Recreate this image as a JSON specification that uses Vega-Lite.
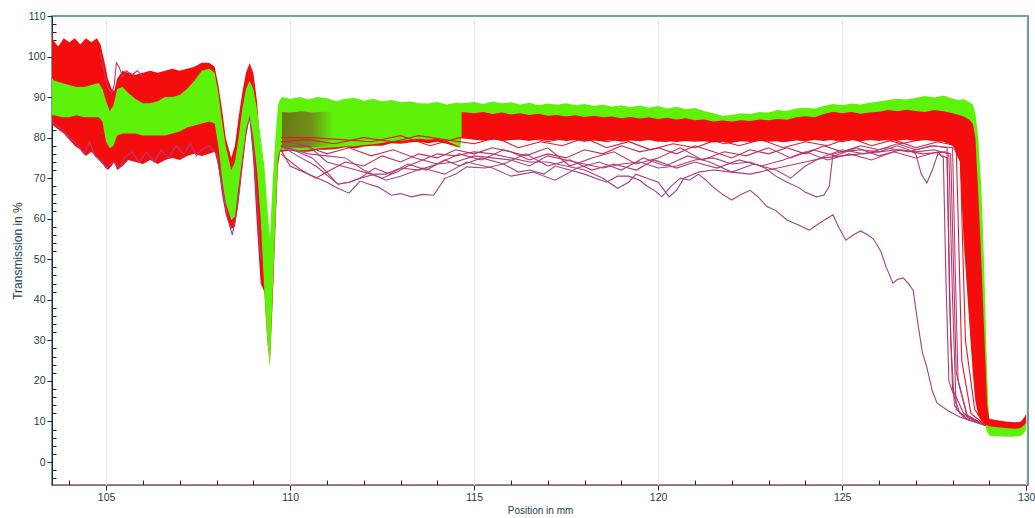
{
"$schema": "https://vega.github.io/schema/vega-lite/v6.json",
"width": 976, "height": 469,
"autosize": {"type": "none"},
"padding": {"left": 52, "top": 16, "right": 7, "bottom": 33},
"background": "#ffffff",
"config": {
  "view": {"stroke": "#3f7f8c", "strokeWidth": 1.5},
  "axis": {"labelFont": "Liberation Sans", "titleFont": "Liberation Sans", "labelColor": "#22404a", "titleColor": "#22404a", "labelFontSize": 10.5, "titleFontSize": 10, "titleFontWeight": "normal", "tickColor": "#1a2a30"}
},
"datasets": {
  "bands": [{"lo":100,"hi":110},{"lo":80,"hi":90},{"lo":60,"hi":70},{"lo":40,"hi":50},{"lo":20,"hi":30},{"lo":0,"hi":10}],
  "redUnder": [
    {"x":103.53,"lo":83,"hi":107.5},{"x":103.56,"lo":83,"hi":104},{"x":103.7,"lo":82,"hi":102.5},{"x":103.85,"lo":81,"hi":104.5},{"x":104.0,"lo":79.5,"hi":103.5},{"x":104.15,"lo":78,"hi":104.5},{"x":104.3,"lo":77,"hi":103},{"x":104.45,"lo":75.5,"hi":104.5},{"x":104.6,"lo":76.5,"hi":103.5},{"x":104.75,"lo":75,"hi":104.5},{"x":104.85,"lo":74,"hi":103},{"x":104.95,"lo":73,"hi":99},{"x":105.05,"lo":72,"hi":94.5},{"x":105.15,"lo":73,"hi":92},{"x":105.22,"lo":74,"hi":91.5},{"x":105.3,"lo":72,"hi":94.5},{"x":105.45,"lo":73,"hi":96.5},{"x":105.6,"lo":74.5,"hi":96},{"x":105.8,"lo":74,"hi":95.5},{"x":106.0,"lo":73.5,"hi":96},{"x":106.2,"lo":74.5,"hi":96.5},{"x":106.4,"lo":73.5,"hi":96},{"x":106.6,"lo":74.5,"hi":96.5},{"x":106.8,"lo":75,"hi":97},{"x":107.0,"lo":74.5,"hi":96.5},{"x":107.2,"lo":75.5,"hi":97},{"x":107.4,"lo":76,"hi":97.5},{"x":107.6,"lo":75.5,"hi":98.5},{"x":107.8,"lo":76,"hi":98.5},{"x":107.95,"lo":76.5,"hi":97.5},{"x":108.05,"lo":73,"hi":93},{"x":108.15,"lo":66,"hi":87},{"x":108.25,"lo":61,"hi":80},{"x":108.4,"lo":57.5,"hi":75},{"x":108.5,"lo":58,"hi":78},{"x":108.6,"lo":64,"hi":85},{"x":108.7,"lo":72,"hi":91},{"x":108.8,"lo":80,"hi":96},{"x":108.9,"lo":85,"hi":98.4},{"x":109.0,"lo":74,"hi":96},{"x":109.1,"lo":58,"hi":89},{"x":109.2,"lo":44,"hi":77},{"x":109.3,"lo":42,"hi":62},{"x":109.38,"lo":30,"hi":53},{"x":109.45,"lo":24,"hi":50},{"x":109.52,"lo":38,"hi":62},{"x":109.6,"lo":57,"hi":76},{"x":109.67,"lo":73,"hi":84},{"x":109.73,"lo":76.5,"hi":86},{"x":109.8,"lo":76.5,"hi":86},
    {"x":110.0,"lo":76.8,"hi":86},{"x":110.25,"lo":76.5,"hi":86},{"x":110.5,"lo":76.5,"hi":86},{"x":110.75,"lo":77,"hi":86},{"x":111.0,"lo":77,"hi":86},{"x":111.25,"lo":77.2,"hi":86},{"x":111.5,"lo":77.6,"hi":86},{"x":111.75,"lo":77.3,"hi":86},{"x":112.0,"lo":77.8,"hi":86},{"x":112.25,"lo":78,"hi":86},{"x":112.5,"lo":78,"hi":86},{"x":112.75,"lo":78.6,"hi":86},{"x":113.0,"lo":78.5,"hi":86},{"x":113.25,"lo":78.8,"hi":86},{"x":113.5,"lo":79,"hi":86},{"x":113.75,"lo":78.6,"hi":86},{"x":114.0,"lo":79,"hi":86},{"x":114.25,"lo":78.5,"hi":86},{"x":114.5,"lo":77.8,"hi":86},{"x":114.62,"lo":77.5,"hi":86}
  ],
  "green": [
    {"x":103.53,"lo":85.5,"hi":94.5},{"x":103.6,"lo":85.5,"hi":94},{"x":103.8,"lo":85,"hi":93.5},{"x":104.0,"lo":85,"hi":93},{"x":104.2,"lo":85.5,"hi":92.5},{"x":104.4,"lo":85,"hi":92.5},{"x":104.6,"lo":85,"hi":93},{"x":104.8,"lo":85,"hi":93.5},{"x":104.9,"lo":84,"hi":92},{"x":105.0,"lo":79,"hi":89},{"x":105.1,"lo":77.4,"hi":86.5},{"x":105.2,"lo":78,"hi":88},{"x":105.3,"lo":80.5,"hi":92},{"x":105.45,"lo":81,"hi":92.5},{"x":105.6,"lo":81,"hi":91},{"x":105.8,"lo":81,"hi":89.5},{"x":106.0,"lo":80.5,"hi":88.5},{"x":106.2,"lo":80.5,"hi":88.5},{"x":106.4,"lo":80.5,"hi":89},{"x":106.6,"lo":80.5,"hi":90},{"x":106.8,"lo":81,"hi":90},{"x":107.0,"lo":81.5,"hi":90.5},{"x":107.2,"lo":82.5,"hi":92},{"x":107.4,"lo":83,"hi":94},{"x":107.6,"lo":83.5,"hi":96.5},{"x":107.8,"lo":84,"hi":97},{"x":107.95,"lo":83.5,"hi":96},{"x":108.05,"lo":78,"hi":91},{"x":108.15,"lo":70,"hi":84},{"x":108.25,"lo":64,"hi":78},{"x":108.4,"lo":59.7,"hi":72},{"x":108.5,"lo":60.5,"hi":74},{"x":108.6,"lo":68,"hi":80},{"x":108.7,"lo":75,"hi":87},{"x":108.8,"lo":82,"hi":92},{"x":108.9,"lo":85.5,"hi":94},{"x":109.0,"lo":80,"hi":92},{"x":109.1,"lo":72,"hi":87},{"x":109.2,"lo":60,"hi":80},{"x":109.3,"lo":42,"hi":73},{"x":109.38,"lo":30,"hi":63},{"x":109.45,"lo":23.5,"hi":55},{"x":109.52,"lo":40,"hi":68},{"x":109.6,"lo":59,"hi":80},{"x":109.67,"lo":75,"hi":88},{"x":109.73,"lo":77,"hi":89.5},{"x":109.8,"lo":77,"hi":90},
    {"x":110.0,"lo":77,"hi":89.5},{"x":110.25,"lo":76.8,"hi":90},{"x":110.5,"lo":77,"hi":89.4},{"x":110.75,"lo":77.3,"hi":90},{"x":111.0,"lo":77.5,"hi":89.7},{"x":111.25,"lo":77.6,"hi":89},{"x":111.5,"lo":77.9,"hi":89.6},{"x":111.75,"lo":77.9,"hi":89.8},{"x":112.0,"lo":78.2,"hi":89.1},{"x":112.25,"lo":78.4,"hi":89.6},{"x":112.5,"lo":78.7,"hi":88.9},{"x":112.75,"lo":79.2,"hi":89.3},{"x":113.0,"lo":79.2,"hi":88.7},{"x":113.25,"lo":79.5,"hi":89},{"x":113.5,"lo":79.7,"hi":88.5},{"x":113.75,"lo":79.5,"hi":88.4},{"x":114.0,"lo":79.7,"hi":88.8},{"x":114.25,"lo":79.2,"hi":88.2},{"x":114.5,"lo":78.2,"hi":88.6},{"x":114.62,"lo":77.7,"hi":88.5},
    {"x":114.66,"lo":80,"hi":88.5},{"x":115.0,"lo":80,"hi":88.8},{"x":115.25,"lo":80,"hi":88.3},{"x":115.5,"lo":80,"hi":88.9},{"x":115.75,"lo":80,"hi":88.5},{"x":116.0,"lo":80,"hi":88.7},{"x":116.25,"lo":80,"hi":88.2},{"x":116.5,"lo":80,"hi":88.6},{"x":116.75,"lo":80,"hi":88.0},{"x":117.0,"lo":80,"hi":88.4},{"x":117.25,"lo":80,"hi":88.1},{"x":117.5,"lo":80,"hi":88.5},{"x":117.75,"lo":80,"hi":88.0},{"x":118.0,"lo":80,"hi":88.3},{"x":118.25,"lo":80,"hi":87.8},{"x":118.5,"lo":80,"hi":88.2},{"x":118.75,"lo":80,"hi":87.6},{"x":119.0,"lo":80,"hi":88.0},{"x":119.25,"lo":80,"hi":87.5},{"x":119.5,"lo":80,"hi":87.9},{"x":119.75,"lo":80,"hi":87.4},{"x":120.0,"lo":80,"hi":87.8},{"x":120.25,"lo":80,"hi":87.2},{"x":120.5,"lo":80,"hi":87.6},{"x":120.75,"lo":80,"hi":87.0},{"x":121.0,"lo":80,"hi":87.3},{"x":121.25,"lo":80,"hi":86.6},{"x":121.5,"lo":80,"hi":86.0},{"x":121.75,"lo":80,"hi":85.4},{"x":122.0,"lo":80,"hi":85.6},{"x":122.25,"lo":80,"hi":86.0},{"x":122.5,"lo":80,"hi":85.8},{"x":122.75,"lo":80,"hi":86.3},{"x":123.0,"lo":80,"hi":86.2},{"x":123.25,"lo":80,"hi":86.8},{"x":123.5,"lo":80,"hi":86.6},{"x":123.75,"lo":80,"hi":87.2},{"x":124.0,"lo":80,"hi":87.4},{"x":124.25,"lo":80,"hi":87.2},{"x":124.5,"lo":80,"hi":87.8},{"x":124.75,"lo":80,"hi":88.3},{"x":125.0,"lo":80,"hi":88.0},{"x":125.25,"lo":80,"hi":88.4},{"x":125.5,"lo":80,"hi":88.2},{"x":125.75,"lo":80,"hi":88.6},{"x":126.0,"lo":80,"hi":88.9},{"x":126.25,"lo":80,"hi":89.3},{"x":126.5,"lo":80,"hi":89.6},{"x":126.75,"lo":80,"hi":89.4},{"x":127.0,"lo":80,"hi":89.8},{"x":127.25,"lo":80,"hi":90.3},{"x":127.5,"lo":80,"hi":89.9},{"x":127.75,"lo":80,"hi":90.4},{"x":128.0,"lo":79,"hi":89.6},{"x":128.2,"lo":75,"hi":89.2},{"x":128.3,"lo":56,"hi":89.5},{"x":128.45,"lo":36,"hi":88.8},{"x":128.55,"lo":23,"hi":88.2},{"x":128.62,"lo":16,"hi":86},{"x":128.7,"lo":12,"hi":80},{"x":128.78,"lo":10.5,"hi":68},{"x":128.86,"lo":9.5,"hi":48},{"x":128.94,"lo":7.5,"hi":22},{"x":129.0,"lo":6.5,"hi":9.2},{"x":129.3,"lo":6.3,"hi":8.8},{"x":129.6,"lo":6.2,"hi":8.6},{"x":129.85,"lo":6.4,"hi":8.7},{"x":129.95,"lo":7.2,"hi":9.6},{"x":130.0,"lo":8,"hi":10.5}
  ],
  "olive": [
    {"x":109.78,"lo":77.8,"hi":86.3},{"x":110.0,"lo":77.6,"hi":86.2},{"x":110.3,"lo":77.4,"hi":86.5},{"x":110.6,"lo":77.6,"hi":86.2},{"x":110.9,"lo":77.8,"hi":86.4},{"x":111.2,"lo":78,"hi":86.3}
  ],
  "redOver": [
    {"x":114.66,"lo":80,"hi":86.3},{"x":115.0,"lo":79.5,"hi":86.0},{"x":115.25,"lo":79.3,"hi":86.3},{"x":115.5,"lo":79.6,"hi":85.8},{"x":115.75,"lo":79.2,"hi":86.2},{"x":116.0,"lo":79.4,"hi":85.7},{"x":116.25,"lo":79.5,"hi":86.0},{"x":116.5,"lo":79.2,"hi":85.6},{"x":116.75,"lo":79.6,"hi":85.9},{"x":117.0,"lo":79.3,"hi":85.4},{"x":117.25,"lo":79.5,"hi":85.6},{"x":117.5,"lo":79.2,"hi":85.2},{"x":117.75,"lo":79.4,"hi":85.5},{"x":118.0,"lo":79.0,"hi":85.1},{"x":118.25,"lo":79.3,"hi":85.4},{"x":118.5,"lo":79.1,"hi":85.0},{"x":118.75,"lo":79.4,"hi":85.2},{"x":119.0,"lo":79.0,"hi":84.8},{"x":119.25,"lo":79.3,"hi":85.1},{"x":119.5,"lo":79.1,"hi":84.7},{"x":119.75,"lo":79.4,"hi":85.0},{"x":120.0,"lo":79.0,"hi":84.6},{"x":120.25,"lo":79.2,"hi":84.9},{"x":120.5,"lo":78.9,"hi":84.5},{"x":120.75,"lo":79.2,"hi":84.8},{"x":121.0,"lo":79.0,"hi":84.3},{"x":121.25,"lo":79.1,"hi":84.5},{"x":121.5,"lo":78.8,"hi":84.0},{"x":121.75,"lo":79.0,"hi":84.2},{"x":122.0,"lo":78.8,"hi":84.0},{"x":122.25,"lo":79.1,"hi":84.3},{"x":122.5,"lo":78.9,"hi":84.1},{"x":122.75,"lo":79.2,"hi":84.5},{"x":123.0,"lo":79.0,"hi":84.3},{"x":123.25,"lo":79.2,"hi":84.6},{"x":123.5,"lo":79.0,"hi":84.4},{"x":123.75,"lo":79.3,"hi":85.0},{"x":124.0,"lo":79.1,"hi":85.3},{"x":124.25,"lo":79.4,"hi":85.0},{"x":124.5,"lo":79.2,"hi":85.8},{"x":124.75,"lo":79.5,"hi":86.4},{"x":125.0,"lo":79.2,"hi":86.0},{"x":125.25,"lo":79.4,"hi":86.3},{"x":125.5,"lo":79.1,"hi":85.9},{"x":125.75,"lo":79.4,"hi":86.2},{"x":126.0,"lo":79.2,"hi":86.4},{"x":126.25,"lo":79.5,"hi":86.8},{"x":126.5,"lo":79.3,"hi":86.5},{"x":126.75,"lo":79.5,"hi":86.9},{"x":127.0,"lo":79.2,"hi":86.6},{"x":127.25,"lo":79.4,"hi":86.3},{"x":127.5,"lo":79.1,"hi":86.8},{"x":127.75,"lo":79.0,"hi":86.5},{"x":128.0,"lo":78.0,"hi":86.0},{"x":128.2,"lo":74,"hi":85.5},{"x":128.3,"lo":55,"hi":85.2},{"x":128.45,"lo":35,"hi":84.5},{"x":128.55,"lo":22,"hi":83.5},{"x":128.62,"lo":15,"hi":80},{"x":128.7,"lo":11.5,"hi":66},{"x":128.78,"lo":10.2,"hi":50},{"x":128.86,"lo":9.5,"hi":32},{"x":128.94,"lo":9.0,"hi":14},{"x":129.0,"lo":8.8,"hi":10.6},{"x":129.1,"lo":8.7,"hi":10.5},{"x":129.3,"lo":8.5,"hi":10.2},{"x":129.5,"lo":8.3,"hi":9.9},{"x":129.7,"lo":8.2,"hi":9.8},{"x":129.85,"lo":8.4,"hi":9.9},{"x":129.93,"lo":9.0,"hi":10.8},{"x":130.0,"lo":9.6,"hi":11.8}
  ],
  "tracesLeft": [
    {"t":"L1","x":103.53,"hi":84},{"t":"L1","x":103.8,"hi":82},{"t":"L1","x":104.0,"hi":80},{"t":"L1","x":104.2,"hi":78.5},{"t":"L1","x":104.4,"hi":76},{"t":"L1","x":104.55,"hi":79},{"t":"L1","x":104.7,"hi":75.5},{"t":"L1","x":104.9,"hi":74},{"t":"L1","x":105.0,"hi":72.5},{"t":"L1","x":105.2,"hi":74},{"t":"L1","x":105.35,"hi":72.5},{"t":"L1","x":105.5,"hi":75},{"t":"L1","x":105.7,"hi":76.5},{"t":"L1","x":105.9,"hi":74},{"t":"L1","x":106.1,"hi":76.5},{"t":"L1","x":106.3,"hi":74},{"t":"L1","x":106.5,"hi":77},{"t":"L1","x":106.7,"hi":75},{"t":"L1","x":106.9,"hi":78},{"t":"L1","x":107.1,"hi":76},{"t":"L1","x":107.3,"hi":78.5},{"t":"L1","x":107.45,"hi":75.5},{"t":"L1","x":107.6,"hi":77},{"t":"L1","x":107.8,"hi":78},{"t":"L1","x":108.0,"hi":76},{"t":"L1","x":108.15,"hi":68},{"t":"L1","x":108.3,"hi":60},{"t":"L1","x":108.43,"hi":56},{"t":"L1","x":108.55,"hi":62},{"t":"L1","x":108.7,"hi":74},{"t":"L1","x":108.8,"hi":82},{"t":"L1","x":108.9,"hi":85},{"t":"L1","x":109.0,"hi":77},{"t":"L1","x":109.1,"hi":64},{"t":"L1","x":109.2,"hi":50},
    {"t":"L2","x":104.85,"hi":101},{"t":"L2","x":104.95,"hi":96},{"t":"L2","x":105.05,"hi":92.5},{"t":"L2","x":105.15,"hi":91},{"t":"L2","x":105.22,"hi":93},{"t":"L2","x":105.28,"hi":98.5},{"t":"L2","x":105.35,"hi":97.5},{"t":"L2","x":105.45,"hi":95},{"t":"L2","x":105.55,"hi":96.5},{"t":"L2","x":105.7,"hi":95.5},{"t":"L2","x":105.85,"hi":96.5},{"t":"L2","x":106.0,"hi":95}
  ],
  "tracesRight": [
    {"t":"T1","x":109.75,"hi":77},{"t":"T1","x":110.0,"hi":73},{"t":"T1","x":110.5,"hi":71},{"t":"T1","x":111.0,"hi":69},{"t":"T1","x":111.3,"hi":67.5},{"t":"T1","x":111.6,"hi":66.3},{"t":"T1","x":111.9,"hi":69.3},{"t":"T1","x":112.15,"hi":68.5},{"t":"T1","x":112.4,"hi":67.8},{"t":"T1","x":112.75,"hi":65.8},{"t":"T1","x":113.0,"hi":66.2},{"t":"T1","x":113.3,"hi":65.4},{"t":"T1","x":113.6,"hi":66},{"t":"T1","x":113.9,"hi":65.8},{"t":"T1","x":114.2,"hi":69.9},{"t":"T1","x":114.5,"hi":71},{"t":"T1","x":114.8,"hi":72.8},{"t":"T1","x":115.3,"hi":72.5},{"t":"T1","x":115.8,"hi":73.5},{"t":"T1","x":116.2,"hi":71.5},{"t":"T1","x":116.5,"hi":72},{"t":"T1","x":116.9,"hi":71},{"t":"T1","x":117.2,"hi":73},{"t":"T1","x":117.6,"hi":72},{"t":"T1","x":118.0,"hi":71},{"t":"T1","x":118.3,"hi":70},{"t":"T1","x":118.6,"hi":69},{"t":"T1","x":118.9,"hi":70.5},{"t":"T1","x":119.2,"hi":70.5},{"t":"T1","x":119.5,"hi":69.5},{"t":"T1","x":119.7,"hi":68},{"t":"T1","x":119.9,"hi":67},{"t":"T1","x":120.1,"hi":65.4},{"t":"T1","x":120.35,"hi":68},{"t":"T1","x":120.6,"hi":70},{"t":"T1","x":120.85,"hi":69.5},{"t":"T1","x":121.1,"hi":71},{"t":"T1","x":121.3,"hi":69.5},{"t":"T1","x":121.5,"hi":67.8},{"t":"T1","x":121.75,"hi":66},{"t":"T1","x":122.0,"hi":64.6},{"t":"T1","x":122.25,"hi":66},{"t":"T1","x":122.5,"hi":67},{"t":"T1","x":122.7,"hi":65.5},{"t":"T1","x":122.96,"hi":63},{"t":"T1","x":123.2,"hi":62},{"t":"T1","x":123.5,"hi":59.7},{"t":"T1","x":123.8,"hi":58.5},{"t":"T1","x":124.1,"hi":57.2},{"t":"T1","x":124.4,"hi":59},{"t":"T1","x":124.75,"hi":61},{"t":"T1","x":124.9,"hi":58},{"t":"T1","x":125.1,"hi":54.7},{"t":"T1","x":125.3,"hi":56},{"t":"T1","x":125.5,"hi":57},{"t":"T1","x":125.7,"hi":56},{"t":"T1","x":125.85,"hi":55},{"t":"T1","x":126.05,"hi":52},{"t":"T1","x":126.2,"hi":48},{"t":"T1","x":126.38,"hi":44.1},{"t":"T1","x":126.5,"hi":45},{"t":"T1","x":126.66,"hi":45.4},{"t":"T1","x":126.8,"hi":44},{"t":"T1","x":126.93,"hi":42.4},{"t":"T1","x":127.06,"hi":34},{"t":"T1","x":127.18,"hi":27},{"t":"T1","x":127.3,"hi":23.4},{"t":"T1","x":127.45,"hi":17.5},{"t":"T1","x":127.58,"hi":14.5},{"t":"T1","x":127.9,"hi":12.5},{"t":"T1","x":128.2,"hi":11.1},{"t":"T1","x":128.5,"hi":10.2},{"t":"T1","x":128.9,"hi":9},
    {"t":"T2","x":109.75,"hi":78},{"t":"T2","x":110.2,"hi":76.5},{"t":"T2","x":110.6,"hi":75},{"t":"T2","x":111.0,"hi":71.5},{"t":"T2","x":111.3,"hi":68.5},{"t":"T2","x":111.6,"hi":69},{"t":"T2","x":111.9,"hi":70},{"t":"T2","x":112.3,"hi":71},{"t":"T2","x":112.6,"hi":71},{"t":"T2","x":113.0,"hi":72.5},{"t":"T2","x":113.5,"hi":72},{"t":"T2","x":114.0,"hi":73.5},{"t":"T2","x":114.5,"hi":74},{"t":"T2","x":115.0,"hi":75.5},{"t":"T2","x":115.5,"hi":75},{"t":"T2","x":116.0,"hi":74.5},{"t":"T2","x":116.5,"hi":73},{"t":"T2","x":117.0,"hi":75.5},{"t":"T2","x":117.5,"hi":74.5},{"t":"T2","x":118.0,"hi":73.5},{"t":"T2","x":118.5,"hi":72.5},{"t":"T2","x":119.0,"hi":73.5},{"t":"T2","x":119.5,"hi":74},{"t":"T2","x":120.0,"hi":72.5},{"t":"T2","x":120.5,"hi":73},{"t":"T2","x":121.0,"hi":74.5},{"t":"T2","x":121.5,"hi":75},{"t":"T2","x":122.0,"hi":73.5},{"t":"T2","x":122.5,"hi":74},{"t":"T2","x":122.9,"hi":72.5},{"t":"T2","x":123.2,"hi":70.5},{"t":"T2","x":123.5,"hi":69},{"t":"T2","x":123.8,"hi":67.8},{"t":"T2","x":124.0,"hi":66.5},{"t":"T2","x":124.3,"hi":65.4},{"t":"T2","x":124.5,"hi":65.8},{"t":"T2","x":124.65,"hi":68},{"t":"T2","x":124.75,"hi":76},{"t":"T2","x":125.0,"hi":76.5},{"t":"T2","x":125.5,"hi":77},{"t":"T2","x":126.0,"hi":76.5},{"t":"T2","x":126.5,"hi":78},{"t":"T2","x":126.8,"hi":77},{"t":"T2","x":127.0,"hi":76},{"t":"T2","x":127.15,"hi":71},{"t":"T2","x":127.3,"hi":68.8},{"t":"T2","x":127.45,"hi":72},{"t":"T2","x":127.6,"hi":76},{"t":"T2","x":127.85,"hi":75},{"t":"T2","x":127.95,"hi":30},{"t":"T2","x":128.05,"hi":14},{"t":"T2","x":128.3,"hi":11},{"t":"T2","x":128.9,"hi":9},
    {"t":"T3","x":109.75,"hi":79},{"t":"T3","x":110.5,"hi":78},{"t":"T3","x":111.0,"hi":74},{"t":"T3","x":111.4,"hi":73},{"t":"T3","x":111.8,"hi":72},{"t":"T3","x":112.2,"hi":71},{"t":"T3","x":112.5,"hi":70},{"t":"T3","x":112.9,"hi":71.5},{"t":"T3","x":113.2,"hi":73},{"t":"T3","x":113.6,"hi":74.5},{"t":"T3","x":114.0,"hi":76},{"t":"T3","x":114.5,"hi":75.5},{"t":"T3","x":115.0,"hi":76.5},{"t":"T3","x":115.5,"hi":76},{"t":"T3","x":116.0,"hi":75},{"t":"T3","x":116.5,"hi":74},{"t":"T3","x":117.0,"hi":74},{"t":"T3","x":117.5,"hi":73},{"t":"T3","x":118.0,"hi":72},{"t":"T3","x":118.5,"hi":70},{"t":"T3","x":118.9,"hi":67.5},{"t":"T3","x":119.2,"hi":69},{"t":"T3","x":119.4,"hi":71},{"t":"T3","x":119.7,"hi":70},{"t":"T3","x":120.0,"hi":69},{"t":"T3","x":120.3,"hi":65.4},{"t":"T3","x":120.5,"hi":67},{"t":"T3","x":120.7,"hi":70},{"t":"T3","x":121.1,"hi":71.5},{"t":"T3","x":121.5,"hi":72},{"t":"T3","x":122.0,"hi":71.5},{"t":"T3","x":122.5,"hi":71},{"t":"T3","x":123.0,"hi":72},{"t":"T3","x":123.5,"hi":73},{"t":"T3","x":124.0,"hi":74},{"t":"T3","x":124.5,"hi":75},{"t":"T3","x":125.0,"hi":75.5},{"t":"T3","x":125.5,"hi":76},{"t":"T3","x":126.0,"hi":76.5},{"t":"T3","x":126.5,"hi":77},{"t":"T3","x":127.0,"hi":76.5},{"t":"T3","x":127.5,"hi":77},{"t":"T3","x":127.9,"hi":76},{"t":"T3","x":128.0,"hi":40},{"t":"T3","x":128.1,"hi":13},{"t":"T3","x":128.4,"hi":10.5},{"t":"T3","x":128.9,"hi":9},
    {"t":"T4","x":109.75,"hi":76},{"t":"T4","x":110.3,"hi":72},{"t":"T4","x":110.7,"hi":70},{"t":"T4","x":111.0,"hi":71.5},{"t":"T4","x":111.5,"hi":74},{"t":"T4","x":112.0,"hi":73},{"t":"T4","x":112.5,"hi":75.5},{"t":"T4","x":113.0,"hi":74},{"t":"T4","x":113.5,"hi":76},{"t":"T4","x":114.0,"hi":75},{"t":"T4","x":114.5,"hi":77},{"t":"T4","x":115.0,"hi":76},{"t":"T4","x":115.5,"hi":77.5},{"t":"T4","x":116.0,"hi":76.5},{"t":"T4","x":116.5,"hi":74.5},{"t":"T4","x":117.0,"hi":76},{"t":"T4","x":117.5,"hi":75},{"t":"T4","x":118.0,"hi":77},{"t":"T4","x":118.5,"hi":76},{"t":"T4","x":119.0,"hi":78},{"t":"T4","x":119.5,"hi":76.5},{"t":"T4","x":120.0,"hi":77.5},{"t":"T4","x":120.5,"hi":76},{"t":"T4","x":121.0,"hi":78},{"t":"T4","x":121.5,"hi":76.5},{"t":"T4","x":122.0,"hi":75},{"t":"T4","x":122.5,"hi":77},{"t":"T4","x":123.0,"hi":76},{"t":"T4","x":123.5,"hi":77.5},{"t":"T4","x":124.0,"hi":76},{"t":"T4","x":124.5,"hi":78},{"t":"T4","x":125.0,"hi":76.5},{"t":"T4","x":125.5,"hi":78},{"t":"T4","x":126.0,"hi":77},{"t":"T4","x":126.5,"hi":78.5},{"t":"T4","x":127.0,"hi":77},{"t":"T4","x":127.5,"hi":78},{"t":"T4","x":127.85,"hi":77.5},{"t":"T4","x":127.92,"hi":40},{"t":"T4","x":128.0,"hi":18},{"t":"T4","x":128.3,"hi":12},{"t":"T4","x":128.9,"hi":9},
    {"t":"T5","x":109.75,"hi":78},{"t":"T5","x":110.5,"hi":76},{"t":"T5","x":111.0,"hi":75.5},{"t":"T5","x":111.5,"hi":75},{"t":"T5","x":112.0,"hi":72},{"t":"T5","x":112.6,"hi":69.5},{"t":"T5","x":113.0,"hi":70.5},{"t":"T5","x":113.6,"hi":72.5},{"t":"T5","x":114.2,"hi":71},{"t":"T5","x":114.8,"hi":74},{"t":"T5","x":115.5,"hi":72.5},{"t":"T5","x":116.0,"hi":70.5},{"t":"T5","x":116.6,"hi":71.5},{"t":"T5","x":117.2,"hi":69.5},{"t":"T5","x":117.8,"hi":72.5},{"t":"T5","x":118.4,"hi":74},{"t":"T5","x":119.0,"hi":72},{"t":"T5","x":119.6,"hi":75},{"t":"T5","x":120.2,"hi":73},{"t":"T5","x":120.8,"hi":75.5},{"t":"T5","x":121.4,"hi":74},{"t":"T5","x":122.0,"hi":71.5},{"t":"T5","x":122.6,"hi":73.5},{"t":"T5","x":123.2,"hi":72},{"t":"T5","x":123.6,"hi":70},{"t":"T5","x":124.0,"hi":73},{"t":"T5","x":124.4,"hi":75},{"t":"T5","x":125.0,"hi":77},{"t":"T5","x":125.6,"hi":76},{"t":"T5","x":126.2,"hi":77.5},{"t":"T5","x":126.8,"hi":76.5},{"t":"T5","x":127.4,"hi":78},{"t":"T5","x":128.0,"hi":77.5},{"t":"T5","x":128.08,"hi":45},{"t":"T5","x":128.15,"hi":20},{"t":"T5","x":128.4,"hi":11},{"t":"T5","x":128.9,"hi":9},
    {"t":"T6","x":109.75,"hi":79},{"t":"T6","x":110.5,"hi":79.5},{"t":"T6","x":111.2,"hi":78.5},{"t":"T6","x":112.0,"hi":80},{"t":"T6","x":112.8,"hi":79},{"t":"T6","x":113.5,"hi":80.5},{"t":"T6","x":114.2,"hi":79.5},{"t":"T6","x":115.0,"hi":78.5},{"t":"T6","x":115.6,"hi":80},{"t":"T6","x":116.2,"hi":77.5},{"t":"T6","x":116.8,"hi":79},{"t":"T6","x":117.4,"hi":78},{"t":"T6","x":118.0,"hi":80},{"t":"T6","x":118.6,"hi":77.5},{"t":"T6","x":119.2,"hi":79},{"t":"T6","x":119.8,"hi":77},{"t":"T6","x":120.4,"hi":78.5},{"t":"T6","x":121.0,"hi":77.5},{"t":"T6","x":121.6,"hi":79.5},{"t":"T6","x":122.2,"hi":78},{"t":"T6","x":122.8,"hi":79.5},{"t":"T6","x":123.4,"hi":77.5},{"t":"T6","x":124.0,"hi":79},{"t":"T6","x":124.6,"hi":78},{"t":"T6","x":125.2,"hi":80},{"t":"T6","x":125.8,"hi":78},{"t":"T6","x":126.4,"hi":79.5},{"t":"T6","x":127.0,"hi":77.5},{"t":"T6","x":127.6,"hi":79},{"t":"T6","x":128.1,"hi":78},{"t":"T6","x":128.18,"hi":50},{"t":"T6","x":128.25,"hi":25},{"t":"T6","x":128.5,"hi":12},{"t":"T6","x":128.9,"hi":9},
    {"t":"T7","x":109.75,"hi":77.5},{"t":"T7","x":110.4,"hi":78},{"t":"T7","x":111.0,"hi":76},{"t":"T7","x":111.6,"hi":77.5},{"t":"T7","x":112.2,"hi":75.5},{"t":"T7","x":112.8,"hi":77},{"t":"T7","x":113.4,"hi":75},{"t":"T7","x":114.0,"hi":73.5},{"t":"T7","x":114.6,"hi":76},{"t":"T7","x":115.2,"hi":74.5},{"t":"T7","x":115.8,"hi":77},{"t":"T7","x":116.4,"hi":75.5},{"t":"T7","x":117.0,"hi":77.5},{"t":"T7","x":117.6,"hi":73},{"t":"T7","x":118.2,"hi":75},{"t":"T7","x":118.8,"hi":76.5},{"t":"T7","x":119.4,"hi":73.5},{"t":"T7","x":120.0,"hi":75},{"t":"T7","x":120.6,"hi":77.5},{"t":"T7","x":121.2,"hi":74.5},{"t":"T7","x":121.8,"hi":76.5},{"t":"T7","x":122.4,"hi":75.5},{"t":"T7","x":123.0,"hi":77.5},{"t":"T7","x":123.6,"hi":75},{"t":"T7","x":124.2,"hi":77},{"t":"T7","x":124.8,"hi":75.5},{"t":"T7","x":125.4,"hi":77.5},{"t":"T7","x":126.0,"hi":75.5},{"t":"T7","x":126.6,"hi":77},{"t":"T7","x":127.2,"hi":76},{"t":"T7","x":127.8,"hi":76.5},{"t":"T7","x":127.95,"hi":76},{"t":"T7","x":128.02,"hi":50},{"t":"T7","x":128.1,"hi":22},{"t":"T7","x":128.4,"hi":11.5},{"t":"T7","x":128.9,"hi":9},
    {"t":"T8","x":109.75,"hi":80},{"t":"T8","x":110.6,"hi":80},{"t":"T8","x":111.4,"hi":79.5},{"t":"T8","x":112.2,"hi":79},{"t":"T8","x":113.0,"hi":80.5},{"t":"T8","x":113.8,"hi":78},{"t":"T8","x":114.6,"hi":80},{"t":"T8","x":115.4,"hi":79.5},{"t":"T8","x":116.2,"hi":80.5},{"t":"T8","x":117.0,"hi":79},{"t":"T8","x":117.8,"hi":80.5},{"t":"T8","x":118.6,"hi":79},{"t":"T8","x":119.4,"hi":80.5},{"t":"T8","x":120.2,"hi":79},{"t":"T8","x":121.0,"hi":80.5},{"t":"T8","x":121.8,"hi":78.5},{"t":"T8","x":122.6,"hi":80},{"t":"T8","x":123.4,"hi":79},{"t":"T8","x":124.2,"hi":80.5},{"t":"T8","x":125.0,"hi":79},{"t":"T8","x":125.8,"hi":80.5},{"t":"T8","x":126.6,"hi":78.5},{"t":"T8","x":127.4,"hi":80},{"t":"T8","x":128.2,"hi":79},{"t":"T8","x":128.27,"hi":55},{"t":"T8","x":128.35,"hi":30},{"t":"T8","x":128.6,"hi":13},{"t":"T8","x":128.9,"hi":9},
    {"t":"T9","x":109.75,"hi":78},{"t":"T9","x":110.2,"hi":75.5},{"t":"T9","x":110.7,"hi":73},{"t":"T9","x":111.3,"hi":68.5},{"t":"T9","x":111.6,"hi":69},{"t":"T9","x":111.9,"hi":70},{"t":"T9","x":112.3,"hi":72.5},{"t":"T9","x":112.7,"hi":71},{"t":"T9","x":113.2,"hi":73.5},{"t":"T9","x":113.7,"hi":72},{"t":"T9","x":114.2,"hi":74.5},{"t":"T9","x":114.6,"hi":73},{"t":"T9","x":115.2,"hi":75},{"t":"T9","x":115.8,"hi":73.5},{"t":"T9","x":116.4,"hi":76},{"t":"T9","x":117.0,"hi":73},{"t":"T9","x":117.6,"hi":74.5},{"t":"T9","x":118.2,"hi":72},{"t":"T9","x":118.8,"hi":73.5},{"t":"T9","x":119.4,"hi":72},{"t":"T9","x":119.9,"hi":74.5},{"t":"T9","x":120.5,"hi":72.5},{"t":"T9","x":121.0,"hi":74},{"t":"T9","x":121.6,"hi":72.5},{"t":"T9","x":122.2,"hi":74.5},{"t":"T9","x":122.8,"hi":73},{"t":"T9","x":123.4,"hi":74.5},{"t":"T9","x":124.0,"hi":76.5},{"t":"T9","x":124.6,"hi":74.5},{"t":"T9","x":125.2,"hi":76},{"t":"T9","x":125.8,"hi":74.5},{"t":"T9","x":126.4,"hi":76.5},{"t":"T9","x":127.0,"hi":75},{"t":"T9","x":127.6,"hi":76.5},{"t":"T9","x":127.75,"hi":75},{"t":"T9","x":127.82,"hi":45},{"t":"T9","x":127.9,"hi":20},{"t":"T9","x":128.2,"hi":12},{"t":"T9","x":128.9,"hi":9}
  ]
},
"encoding": {
  "x": {"field": "x", "type": "quantitative", "scale": {"domain": [103.53, 130.05], "nice": false, "zero": false}, "title": "Position in mm",
    "axis": {"values": [104,105,106,107,108,109,110,111,112,113,114,115,116,117,118,119,120,121,122,123,124,125,126,127,128,129,130],
      "labelExpr": "datum.value % 5 === 0 ? datum.label : ''", "labelOverlap": false, "labelFlush": false, "tickCount": 27,
      "tickSize": {"condition": {"test": "datum.value % 5 === 0", "value": 5}, "value": -5},
      "grid": true, "gridColor": "#eaeded",
      "gridOpacity": {"condition": {"test": "datum.value % 5 === 0", "value": 1}, "value": 0},
      "domainColor": "#c85050", "labelPadding": 2, "titlePadding": 3}},
  "y": {"field": "hi", "type": "quantitative", "scale": {"domain": [-5.67, 110], "nice": false, "zero": false}, "title": "Transmission in %",
    "axis": {"values": [-4,-2,0,2,4,6,8,10,12,14,16,18,20,22,24,26,28,30,32,34,36,38,40,42,44,46,48,50,52,54,56,58,60,62,64,66,68,70,72,74,76,78,80,82,84,86,88,90,92,94,96,98,100,102,104,106,108,110],
      "labelExpr": "datum.value % 10 === 0 ? datum.label : ''", "labelOverlap": false, "labelFlush": false, "tickCount": 58,
      "tickSize": {"condition": {"test": "datum.value % 10 === 0", "value": 5}, "value": -4},
      "grid": false, "domainColor": "#1e2e34", "labelPadding": 2, "titlePadding": 3, "titleFontSize": 12}}
},
"layer": [
  {
    "data": {"name": "bands"},
    "mark": {"type": "rect", "fill": "#000000", "opacity": 0.035},
    "encoding": {"x": {"datum": 103.53, "type": "quantitative"}, "x2": {"datum": 130.05}, "y2": {"field": "lo"}}
  },
  {
    "data": {"name": "redUnder"},
    "mark": {"type": "area", "color": "#f50c0c", "clip": true},
    "encoding": {"y2": {"field": "lo"}}
  },
  {
    "data": {"name": "tracesLeft"},
    "mark": {"type": "line", "strokeWidth": 1.1, "clip": true},
    "encoding": {
      "color": {"field": "t", "type": "nominal", "legend": null, "scale": {"domain": ["T1","T2","T3","T4","T5","T6","T7","T8","T9","L1","L2"], "range": ["#9c4384","#a8407c","#b03a78","#c02a5a","#a84684","#e3182c","#c8305e","#e81a26","#b43a72","#a8408a","#b83a7a"]}}
    }
  },
  {
    "data": {"name": "green"},
    "mark": {"type": "area", "color": "#5ef20a", "clip": true},
    "encoding": {"y2": {"field": "lo"}}
  },
  {
    "data": {"name": "olive"},
    "mark": {"type": "area", "clip": true, "color": {"gradient": "linear", "x1": 0, "x2": 1, "y1": 0, "y2": 0, "stops": [{"offset": 0, "color": "#6b7812"}, {"offset": 0.55, "color": "#70901a"}, {"offset": 1, "color": "#5ef20a"}]}},
    "encoding": {"y2": {"field": "lo"}}
  },
  {
    "data": {"name": "tracesRight"},
    "mark": {"type": "line", "strokeWidth": 1.1, "clip": true},
    "encoding": {
      "color": {"field": "t", "type": "nominal", "legend": null, "scale": {"domain": ["T1","T2","T3","T4","T5","T6","T7","T8","T9","L1","L2"], "range": ["#9c4384","#a8407c","#b03a78","#c02a5a","#a84684","#e3182c","#c8305e","#e81a26","#b43a72","#a8408a","#b83a7a"]}}
    }
  },
  {
    "data": {"name": "redOver"},
    "mark": {"type": "area", "color": "#f50c0c", "clip": true},
    "encoding": {"y2": {"field": "lo"}}
  }
]
}
